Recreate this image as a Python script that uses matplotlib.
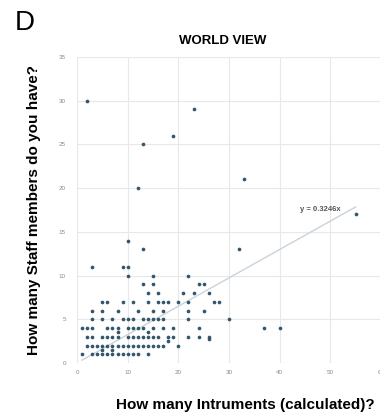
import matplotlib
matplotlib.use("Agg")
import matplotlib.pyplot as plt
import numpy as np

# Data (instruments, staff)
rows = {
    1:   [1, 3, 4, 5, 6, 7, 8, 9, 10, 11, 12, 14],
    1.5: [5, 7],
    2:   [2, 3, 4, 5, 6, 7, 8, 9, 10, 11, 12, 13, 14, 15, 16, 17, 20],
    2.5: [18],
    2.8: [26],
    3:   [2, 3, 5, 6, 7, 8, 10, 11, 12, 13, 14, 15, 16, 18, 19, 22, 24, 26],
    3.5: [8, 14],
    4:   [1, 2, 3, 6, 7, 8, 10, 11, 12, 13, 15, 17, 19, 24, 37, 40],
    5:   [3, 5, 7, 9, 10, 11, 13, 14, 15, 16, 17, 22, 30],
    6:   [3, 5, 8, 12, 15, 17, 22, 25],
    7:   [5, 6, 9, 11, 14, 16, 17, 18, 20, 22, 27, 28],
    8:   [14, 16, 21, 23, 26],
    9:   [13, 15, 24, 25],
    10:  [10, 15, 22],
    11:  [3, 9, 10],
    13:  [13, 32],
    14:  [10],
    17:  [55],
    20:  [12],
    21:  [33],
    25:  [13],
    26:  [19],
    29:  [23],
    30:  [2],
}
instruments = [x for y, xs in rows.items() for x in xs]
staff = [y for y, xs in rows.items() for x in xs]

slope = 0.3246
trend_x = [1, 55]
x_ticks = [0, 10, 20, 30, 40, 50, 60]
y_ticks = [0, 5, 10, 15, 20, 25, 30, 35]

plt.rcParams['font.family'] = ['Liberation Sans', 'DejaVu Sans']

fig = plt.figure(figsize=(3.8, 4.2), dpi=100)
ax = fig.add_axes([77/380, 57/420, 304/380, 306/420])
ax.set_xlim(0, 60)
ax.set_ylim(0, 35)
ax.set_xticks(x_ticks)
ax.set_yticks(y_ticks)
ax.grid(True, color='#e8e8e8', linewidth=0.8)
ax.set_axisbelow(True)
for s in ax.spines.values():
    s.set_visible(False)
ax.tick_params(length=0, labelsize=4.5, labelcolor='#8a8a8a')
ax.tick_params(axis='y', pad=8)
ax.tick_params(axis='x', pad=5)

tx = np.array(trend_x, dtype=float)
ax.plot(tx, slope * tx, color='#c9d3da', linewidth=1.0, zorder=2)
ax.scatter(instruments, staff, s=7, color='#33566b', zorder=3, linewidths=0)
ax.text(44, 17.6, 'y = 0.3246x', fontsize=5.5, color='#555555',
        fontweight='bold', va='center', ha='left')

fig.text(15/380, 1 - 23/420, 'D', fontsize=20, ha='left', va='center')
fig.text(223/380, 1 - 41/420, 'WORLD VIEW', fontsize=9.5, fontweight='bold',
         ha='center', va='center')
fig.text(34/380, 1 - 210/420, 'How many Staff members do you have?',
         fontsize=11, fontweight='bold', rotation=90, ha='center', va='center')
fig.text(245/380, 1 - 405/420, 'How many Intruments (calculated)?',
         fontsize=11, fontweight='bold', ha='center', va='center')

fig.savefig('out.png', dpi=100)
